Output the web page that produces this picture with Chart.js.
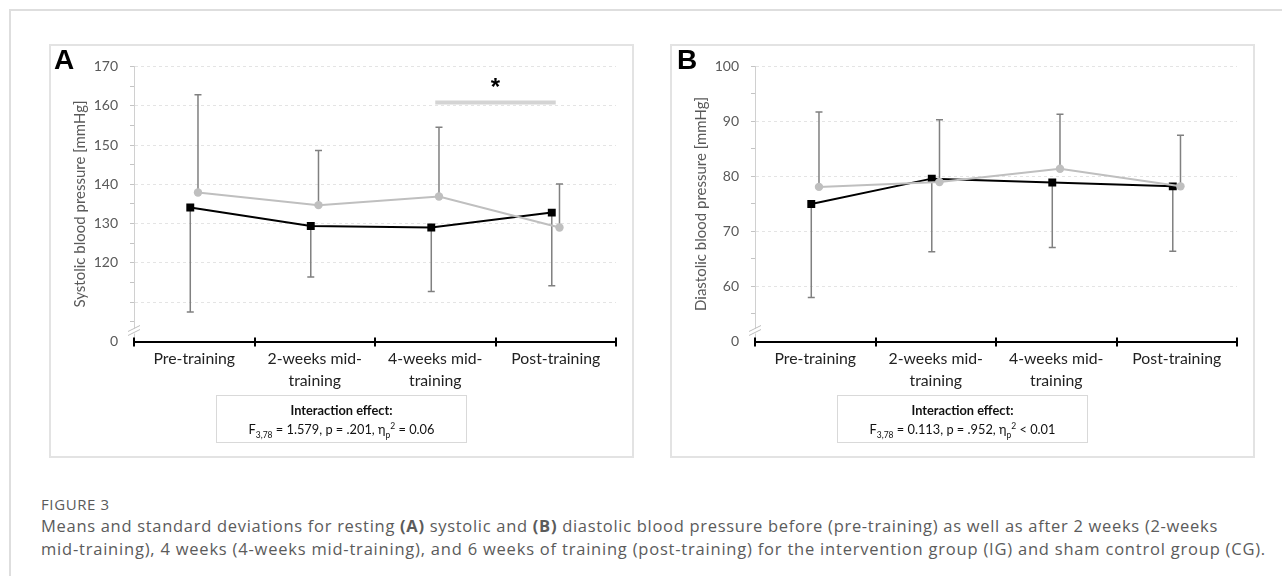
<!DOCTYPE html>
<html>
<head>
<meta charset="utf-8">
<script src="https://cdn.jsdelivr.net/npm/chart.js@4.4.1/dist/chart.umd.min.js"></script>
<style>
  body { margin: 0; background: #fff; width: 1282px; height: 576px; overflow: hidden; position: relative; font-family: Lato, "Open Sans", sans-serif; }
  .frame { position: absolute; left: 9px; top: 9px; right: -2px; bottom: -2px; border-top: 2px solid #dedede; border-left: 2px solid #dedede; }
  .panel { position: absolute; top: 44px; width: 585px; height: 414px; border: 2px solid #e3e3e3; box-sizing: border-box; }
  .panel canvas { position: absolute; left: 0; top: 0; }
  .lbl { position: absolute; top: 44px; font: bold 28px "Liberation Sans", Arial, sans-serif; color: #000; }
  .effect { position: absolute; top: 395px; width: 251px; height: 48px; border: 1px solid #d9d9d9; box-sizing: border-box;
            text-align: center; font-size: 12.8px; color: #111; line-height: 19px; padding-top: 5px; }
  .effect sub, .effect sup { font-size: 8.5px; line-height: 0; }
  .caption { position: absolute; left: 41px; top: 494px; color: #5b5b5b; font-family: "Open Sans", sans-serif; }
  .caption .fig { font-size: 15px; letter-spacing: 0.6px; line-height: 20px; }
  .caption .ln { font-size: 16.5px; line-height: 23px; white-space: nowrap; display: block; width: max-content; }
</style>
</head>
<body>
<div class="frame"></div>
<div class="panel" style="left:49px"><canvas id="chartA" width="581" height="410"></canvas></div>
<div class="panel" style="left:670px"><canvas id="chartB" width="581" height="410"></canvas></div>
<div class="lbl" style="left:54px">A</div>
<div class="lbl" style="left:677px">B</div>
<div class="effect" style="left:216px"><b>Interaction effect:</b><br>F<sub>3,78</sub> = 1.579, p = .201, η<sub>p</sub><sup>2</sup> = 0.06</div>
<div class="effect" style="left:837px"><b>Interaction effect:</b><br>F<sub>3,78</sub> = 0.113, p = .952, η<sub>p</sub><sup>2</sup> &lt; 0.01</div>
<div class="caption">
  <div class="fig">FIGURE 3</div>
  <span class="ln" data-w="1177">Means and standard deviations for resting <b>(A)</b> systolic and <b>(B)</b> diastolic blood pressure before (pre-training) as well as after 2 weeks (2-weeks</span>
  <span class="ln" data-w="1225">mid-training), 4 weeks (4-weeks mid-training), and 6 weeks of training (post-training) for the intervention group (IG) and sham control group (CG).</span>
</div>
<script>
// time points
const categories = [['Pre-training'], ['2-weeks mid-', 'training'], ['4-weeks mid-', 'training'], ['Post-training']];

// systolic (A), IG = black squares (bar = -SD), CG = grey circles (bar = +SD)
const sysIgMean = [134.1, 129.4, 129.0, 132.8];
const sysIgSd = [26.6, 13.0, 16.3, 18.6];
const sysCgMean = [137.9, 134.7, 136.9, 129.0];
const sysCgSd = [24.9, 13.9, 17.6, 11.1];
const sysTicks = [120, 130, 140, 150, 160, 170];
const sysSig = { from: 2, to: 3, y: 160.8 };

// diastolic (B)
const diaIgMean = [75.0, 79.6, 78.9, 78.2];
const diaIgSd = [17.0, 13.3, 11.8, 11.8];
const diaCgMean = [78.1, 79.0, 81.4, 78.2];
const diaCgSd = [13.6, 11.3, 9.9, 9.3];
const diaTicks = [60, 70, 80, 90, 100];

const FONT = 'Lato, "Open Sans", sans-serif';

// caption lines stretched to the width they have in the figure
document.querySelectorAll('.caption .ln').forEach(el => {
    const w = el.getBoundingClientRect().width;
    el.style.letterSpacing = ((+el.dataset.w - w) / el.textContent.length) + 'px';
});

// error bars, one direction per group
const errorBars = {
    id: 'errorBars',
    beforeDatasetsDraw(chart) {
        const ctx = chart.ctx;
        const y = chart.scales.y;
        chart.data.datasets.forEach((ds, di) => {
            if (!ds.sd) return;
            chart.getDatasetMeta(di).data.forEach((pt, i) => {
                const end = y.getPixelForValue(ds.data[i].y + ds.dir * ds.sd[i]);
                ctx.save();
                ctx.strokeStyle = '#808080';
                ctx.lineWidth = 1.5;
                ctx.beginPath();
                ctx.moveTo(pt.x, pt.y);
                ctx.lineTo(pt.x, end);
                ctx.moveTo(pt.x - 3.5, end);
                ctx.lineTo(pt.x + 3.5, end);
                ctx.stroke();
                ctx.restore();
            });
        });
    }
};

// axis bits Excel draws: crossing ticks, the // break, the asterisk
const axisBits = {
    id: 'axisBits',
    afterDraw(chart, args, opts) {
        const ctx = chart.ctx;
        const xv = chart.scales.xv;
        const area = chart.chartArea;
        ctx.save();
        ctx.strokeStyle = '#000';
        ctx.lineWidth = 2;
        for (let v = 0; v <= categories.length; v++) {
            const px = Math.round(xv.getPixelForValue(v));
            ctx.beginPath();
            ctx.moveTo(px, area.bottom - 4);
            ctx.lineTo(px, area.bottom + 5);
            ctx.stroke();
        }
        // broken axis
        const bx = area.left, by = area.bottom - 11;
        ctx.fillStyle = '#fff';
        ctx.fillRect(bx - 2, by - 2, 4, 5);
        ctx.strokeStyle = '#bdbdbd';
        ctx.lineWidth = 1;
        [by - 2, by + 2].forEach(yy => {
            ctx.beginPath();
            ctx.moveTo(bx - 6, yy + 3);
            ctx.lineTo(bx + 6, yy - 3);
            ctx.stroke();
        });
        if (opts.sig) {
            const sx = (xv.getPixelForValue(opts.sig.from + 0.5) + xv.getPixelForValue(opts.sig.to + 0.5)) / 2;
            const sy = chart.scales.y.getPixelForValue(opts.sig.y);
            ctx.fillStyle = '#000';
            ctx.font = 'bold 24px "Liberation Sans", Arial, sans-serif';
            ctx.textAlign = 'center';
            ctx.textBaseline = 'middle';
            ctx.fillText('*', sx, sy - 14);
        }
        ctx.restore();
    }
};

function points(values, shift) {
    return values.map((v, i) => ({ x: i + 0.5 + shift, y: v }));
}

function makeChart(id, cfg) {
    const datasets = [
        {
            label: 'CG', data: points(cfg.cgMean, 0.031), sd: cfg.cgSd, dir: 1,
            borderColor: '#bfbfbf', backgroundColor: '#bfbfbf', borderWidth: 2,
            pointStyle: 'circle', pointRadius: 4.2, pointBorderWidth: 0, xAxisID: 'xv'
        },
        {
            label: 'IG', data: points(cfg.igMean, -0.033), sd: cfg.igSd, dir: -1,
            borderColor: '#000', backgroundColor: '#000', borderWidth: 2,
            pointStyle: 'rect', pointRadius: 5.6, pointBorderWidth: 0, xAxisID: 'xv'
        }
    ];
    if (cfg.sig) {
        datasets.push({
            label: 'sig', data: [{ x: cfg.sig.from + 0.5, y: cfg.sig.y }, { x: cfg.sig.to + 0.5, y: cfg.sig.y }],
            borderColor: '#d4d4d4', borderWidth: 4, pointRadius: 0, xAxisID: 'xv'
        });
    }
    const min = cfg.min;
    new Chart(document.getElementById(id), {
        type: 'line',
        data: { datasets },
        plugins: [errorBars, axisBits],
        options: {
            responsive: false,
            animation: false,
            layout: { padding: { top: 16, right: 16, bottom: 54.5, left: 0 } },
            plugins: { legend: { display: false }, tooltip: { enabled: false }, axisBits: { sig: cfg.sig } },
            scales: {
                xv: { type: 'linear', display: false, min: 0, max: categories.length },
                x: {
                    type: 'category', labels: categories, offset: true,
                    grid: { display: false, drawTicks: false },
                    border: { color: '#000', width: 2 },
                    ticks: { color: '#222', font: { family: FONT, size: 15.8, lineHeight: 1.35 }, padding: 7, maxRotation: 0, autoSkip: false },
                    afterFit: s => { s.height = 60; }
                },
                y: {
                    min: min, max: cfg.max,
                    afterBuildTicks: s => {
                        const t = [];
                        for (let v = min; v <= cfg.max; v += 5) t.push({ value: v });
                        s.ticks = t;
                    },
                    afterFit: s => { s.width = 83; },
                    border: { color: '#d0d0d0', width: 1, dash: [3, 3] },
                    grid: {
                        color: c => (c.tick && c.tick.value % 10 === 0 && c.tick.value > min) ? '#e4e4e4' : 'rgba(0,0,0,0)',
                        tickColor: c => (c.tick && c.tick.value > min) ? '#c4c4c4' : 'rgba(0,0,0,0)',
                        tickLength: 4
                    },
                    ticks: {
                        autoSkip: false, color: '#595959', padding: 12,
                        font: { family: FONT, size: 14 },
                        callback: v => v === min ? '0' : (cfg.ticks.includes(v) ? String(v) : '')
                    },
                    title: {
                        display: true, text: cfg.title, color: '#595959',
                        font: { family: FONT, size: 15 }, padding: { top: 20 }
                    }
                }
            }
        }
    });
}

makeChart('chartA', {
    igMean: sysIgMean, igSd: sysIgSd, cgMean: sysCgMean, cgSd: sysCgSd,
    min: 100, max: 170, ticks: sysTicks, sig: sysSig, title: 'Systolic blood pressure [mmHg]'
});
makeChart('chartB', {
    igMean: diaIgMean, igSd: diaIgSd, cgMean: diaCgMean, cgSd: diaCgSd,
    min: 50, max: 100, ticks: diaTicks, sig: null, title: 'Diastolic blood pressure [mmHg]'
});
</script>
</body>
</html>
